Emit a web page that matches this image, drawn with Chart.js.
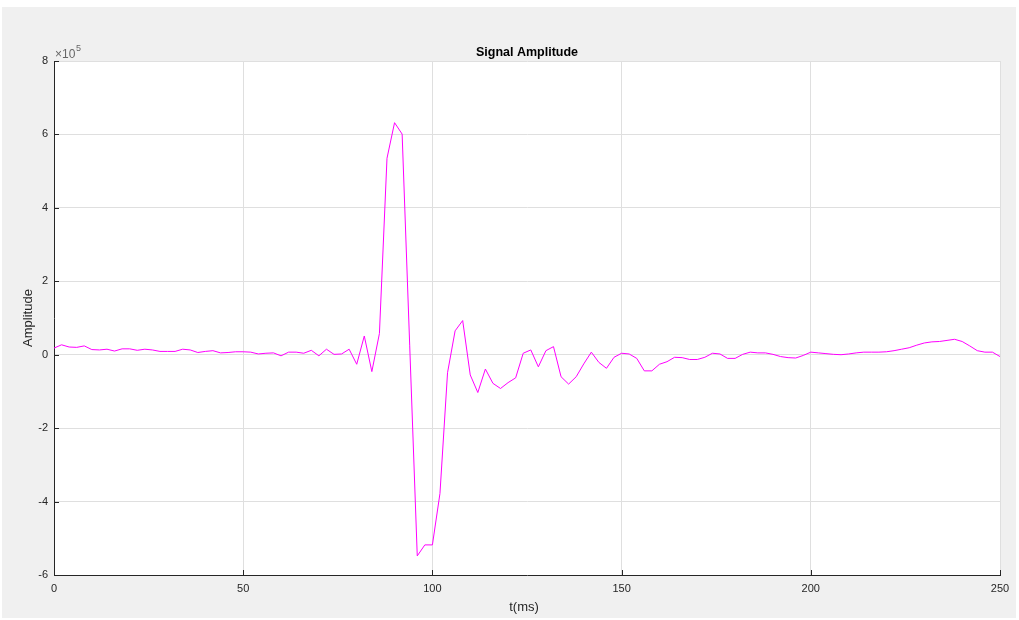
<!DOCTYPE html>
<html>
<head>
<meta charset="utf-8">
<script src="https://cdn.jsdelivr.net/npm/chart.js@4.4.1/dist/chart.umd.min.js"></script>
<style>
    html, body { margin: 0; padding: 0; background: #ffffff; }
    #figure { position: absolute; left: 2px; top: 7px; width: 1014px; height: 611px; background: #f0f0f0; }
    #signalChart { position: absolute; left: 0; top: 0; }
</style>
</head>
<body>
<div id="figure"></div>
<canvas id="signalChart" width="1019" height="620"></canvas>
<script>
// sample times (ms)
const timeMs = [
    0, 2, 4, 6, 8, 10, 12, 14, 16, 18, 20, 22, 24, 26, 28, 30, 32, 34, 36, 38,
    40, 42, 44, 46, 48, 50, 52, 54, 56, 58, 60, 62, 64, 66, 68, 70, 72, 74, 76, 78,
    80, 82, 84, 86, 88, 90, 92, 94, 96, 98, 100, 102, 104, 106, 108, 110, 112, 114, 116, 118,
    120, 122, 124, 126, 128, 130, 132, 134, 136, 138, 140, 142, 144, 146, 148, 150, 152, 154, 156, 158,
    160, 162, 164, 166, 168, 170, 172, 174, 176, 178, 180, 182, 184, 186, 188, 190, 192, 194, 196, 198,
    200, 202, 204, 206, 208, 210, 212, 214, 216, 218, 220, 222, 224, 226, 228, 230, 232, 234, 236, 238,
    240, 242, 244, 246, 248, 250
];

// amplitude
const amplitude = [
    18000, 27000, 21000, 20000, 24000, 14000, 13000, 15000, 10000, 16000,
    16000, 12000, 15000, 13000, 9000, 9000, 9000, 15000, 13000, 6000,
    9000, 11000, 5000, 6000, 8000, 8000, 7000, 2000, 4000, 5000,
    -3000, 7000, 7000, 4000, 12000, -3000, 15000, 1000, 2000, 15000,
    -26000, 51000, -46000, 58000, 535000, 632000, 601000, 26000, -548000, -518000,
    -518000, -378000, -49000, 65000, 93000, -55000, -103000, -39000, -78000, -92000,
    -76000, -63000, 4000, 13000, -33000, 11000, 22000, -60000, -80000, -60000,
    -25000, 7000, -21000, -37000, -7000, 4000, 2000, -10000, -44000, -44000,
    -26000, -19000, -7000, -8000, -13000, -13000, -7000, 4000, 2000, -10000,
    -10000, 1000, 7000, 5000, 5000, 1000, -5000, -8000, -9000, -2000,
    7000, 5000, 3000, 1000, 0, 2000, 5000, 7000, 7000, 7000,
    8000, 11000, 15000, 19000, 26000, 32000, 35000, 36000, 39000, 42000,
    36000, 24000, 11000, 7000, 7000, -5000
];

const chartTitle = 'Signal Amplitude';
const xLabel = 't(ms)';
const yLabel = 'Amplitude';
const yExponent = 5;

const axisColor = '#262626';
const gridColor = '#dfdfdf';
const fontFamily = "'Liberation Sans', Arial, Helvetica, sans-serif";

// white plot background + matlab style text and inward ticks
const matlabLook = {
    id: 'matlabLook',
    beforeDraw(chart) {
        const a = chart.chartArea;
        const c = chart.ctx;
        c.save();
        c.fillStyle = '#ffffff';
        c.fillRect(a.left, a.top, a.right - a.left, a.bottom - a.top);
        c.restore();
    },
    afterDraw(chart) {
        const a = chart.chartArea;
        const c = chart.ctx;
        const xs = chart.scales.x;
        const ys = chart.scales.y;
        c.save();

        // tick marks pointing inward
        c.strokeStyle = axisColor;
        c.lineWidth = 1;
        c.beginPath();
        xs.ticks.forEach(t => {
            const px = Math.round(xs.getPixelForValue(t.value)) + 0.5;
            c.moveTo(px, a.bottom);
            c.lineTo(px, a.bottom - 5);
        });
        ys.ticks.forEach(t => {
            const py = Math.round(ys.getPixelForValue(t.value)) + 0.5;
            c.moveTo(a.left, py);
            c.lineTo(a.left + 5, py);
        });
        c.stroke();

        const cx = (a.left + a.right) / 2;
        const cy = (a.top + a.bottom) / 2;

        // title
        c.fillStyle = '#000000';
        c.font = 'bold 12.5px ' + fontFamily;
        c.textAlign = 'center';
        c.textBaseline = 'alphabetic';
        c.fillText(chartTitle, cx, a.top - 5);

        // axis labels
        c.fillStyle = axisColor;
        c.font = '13px ' + fontFamily;
        c.textBaseline = 'middle';
        c.fillText(xLabel, cx - 3, a.bottom + 32);
        c.save();
        c.translate(28, cy);
        c.rotate(-Math.PI / 2);
        c.fillText(yLabel, 0, 0);
        c.restore();

        // exponent marker
        c.fillStyle = '#666666';
        c.textAlign = 'left';
        c.textBaseline = 'alphabetic';
        c.font = '12px ' + fontFamily;
        c.fillText('\u00d710', a.left + 1, a.top - 3);
        c.font = '9px ' + fontFamily;
        c.fillText(String(yExponent), a.left + 22, a.top - 10);

        c.restore();
    }
};

const points = timeMs.map((t, i) => ({ x: t, y: amplitude[i] }));

new Chart(document.getElementById('signalChart').getContext('2d'), {
    type: 'line',
    data: {
        datasets: [{
            label: yLabel,
            data: points,
            borderColor: '#ff00ff',
            borderWidth: 1,
            pointRadius: 0,
            tension: 0,
            fill: false
        }]
    },
    options: {
        responsive: false,
        animation: false,
        layout: { padding: { left: 0, top: 61, right: 19, bottom: 0 } },
        plugins: {
            legend: { display: false },
            tooltip: { enabled: false }
        },
        scales: {
            x: {
                type: 'linear',
                min: 0,
                max: 250,
                afterFit: s => { s.height = 45; },
                ticks: {
                    stepSize: 50,
                    color: axisColor,
                    padding: 7,
                    maxRotation: 0,
                    font: { family: fontFamily, size: 11 }
                },
                grid: { color: gridColor, drawTicks: false },
                border: { color: axisColor, width: 1 }
            },
            y: {
                min: -600000,
                max: 800000,
                afterFit: s => { s.width = 54; },
                ticks: {
                    stepSize: 200000,
                    color: axisColor,
                    padding: 6,
                    font: { family: fontFamily, size: 11 },
                    callback: v => String(v / Math.pow(10, yExponent))
                },
                grid: { color: gridColor, drawTicks: false },
                border: { color: axisColor, width: 1 }
            }
        }
    },
    plugins: [matlabLook]
});
</script>
</body>
</html>
